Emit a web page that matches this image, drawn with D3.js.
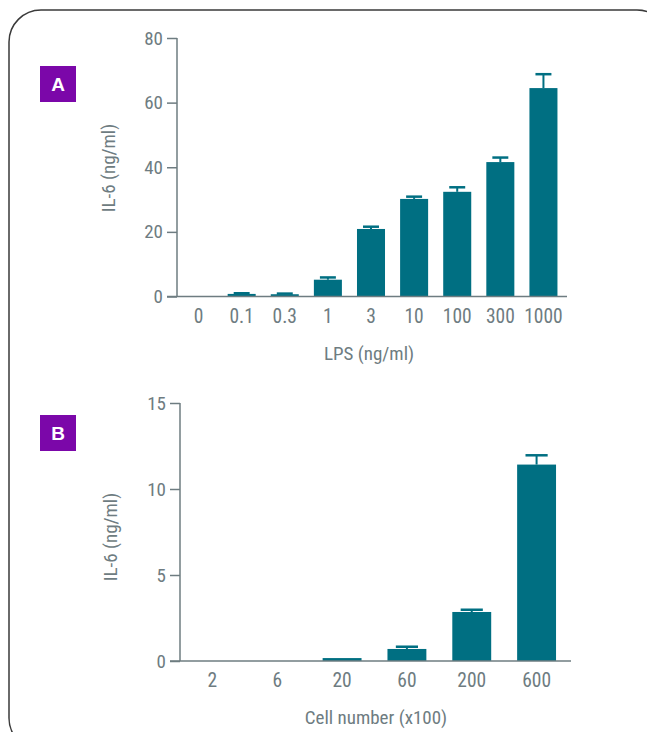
<!DOCTYPE html>
<meta charset="utf-8">
<style>
  body { margin: 0; background: #fff; }
  .axis path, .axis line { stroke: #6e7c81; stroke-width: 1.5px; }
  .axis text { fill: #6e7c81; font-size: 19px; }
  text { font-family: "Liberation Sans Narrow", "Roboto Condensed", "DejaVu Sans Condensed", sans-serif; }
</style>
<body>
<div id="chart"></div>
<script src="https://d3js.org/d3.v7.min.js"></script>
<script>

// panel A: LPS dose
var lpsDoses = ["0", "0.1", "0.3", "1", "3", "10", "100", "300", "1000"];
var lpsIL6 = [0, 0.8, 0.7, 5.2, 20.9, 30.2, 32.4, 41.6, 64.5];
var lpsErr = [0, 0.2, 0.2, 0.7, 0.7, 0.7, 1.4, 1.4, 4.3];
var lpsTicks = [0, 20, 40, 60, 80];

// panel B: cell number
var cellNumbers = ["2", "6", "20", "60", "200", "600"];
var cellIL6 = [0, 0, 0.17, 0.70, 2.85, 11.42];
var cellErr = [0, 0, 0, 0.13, 0.13, 0.54];
var cellTicks = [0, 5, 10, 15];

var W = 647, H = 732;
var barColor = "#006f82", textColor = "#6e7c81";

var svg = d3.select("#chart").append("svg")
    .attr("width", W)
    .attr("height", H);

// rounded frame, runs off the right and bottom edges
svg.append("rect")
    .attr("x", 9).attr("y", 10)
    .attr("width", 660).attr("height", 740)
    .attr("rx", 32).attr("ry", 32)
    .attr("fill", "none")
    .attr("stroke", "#3a3a3a")
    .attr("stroke-width", 1.5);

function drawPanel(p) {
  var x = d3.scaleBand()
      .domain(p.cats)
      .range([p.x0, p.x1])
      .paddingInner(p.pad)
      .paddingOuter(p.pad / 2);
  var y = d3.scaleLinear()
      .domain([0, d3.max(p.ticks)])
      .range([p.y0, p.y1]);

  var data = p.cats.map(function(c, i) { return {cat: c, v: p.vals[i], e: p.errs[i]}; });
  var g = svg.append("g");

  // error bars
  var capW = x.bandwidth() * 0.57;
  data.filter(function(d) { return d.e > 0; }).forEach(function(d) {
    var cx = x(d.cat) + x.bandwidth() / 2;
    g.append("line")
      .attr("x1", cx).attr("x2", cx)
      .attr("y1", y(d.v)).attr("y2", y(d.v + d.e))
      .attr("stroke", barColor).attr("stroke-width", 2);
    g.append("line")
      .attr("x1", cx - capW / 2).attr("x2", cx + capW / 2)
      .attr("y1", y(d.v + d.e)).attr("y2", y(d.v + d.e))
      .attr("stroke", barColor).attr("stroke-width", 2.5);
  });

  g.selectAll("rect.bar")
    .data(data)
    .enter().append("rect")
      .attr("class", "bar")
      .attr("x", function(d) { return x(d.cat); })
      .attr("width", x.bandwidth())
      .attr("y", function(d) { return y(d.v); })
      .attr("height", function(d) { return y(0) - y(d.v); })
      .attr("fill", barColor);

  // y axis
  var gy = svg.append("g")
      .attr("class", "axis")
      .attr("transform", "translate(" + p.x0 + ",0)")
      .call(d3.axisLeft(y).tickValues(p.ticks).tickSize(10).tickSizeOuter(0).tickPadding(4));
  gy.select(".domain").remove();
  gy.append("line")
    .attr("x1", 0).attr("x2", 0)
    .attr("y1", p.y0).attr("y2", p.y1)
    .attr("stroke", textColor).attr("stroke-width", 1.5);

  // x axis baseline (no ticks)
  svg.append("line")
    .attr("x1", p.x0 - 10).attr("x2", p.x1 + 2)
    .attr("y1", p.y0).attr("y2", p.y0)
    .attr("stroke", textColor).attr("stroke-width", 1.5);

  svg.append("g")
    .selectAll("text")
    .data(p.cats)
    .enter().append("text")
      .attr("x", function(d) { return x(d) + x.bandwidth() / 2; })
      .attr("y", p.y0 + 26)
      .attr("text-anchor", "middle")
      .attr("fill", textColor)
      .style("font-size", "19.5px")
      .text(function(d) { return d; });

  // axis titles
  svg.append("text")
    .attr("x", p.xTitleX).attr("y", p.xTitleY)
    .attr("text-anchor", "middle")
    .attr("fill", textColor)
    .style("font-size", "19px")
    .text(p.xTitle);
  svg.append("text")
    .attr("transform", "translate(" + p.yTitleX + "," + p.yTitleY + ") rotate(-90)")
    .attr("text-anchor", "middle")
    .attr("fill", textColor)
    .style("font-size", "19px")
    .text("IL-6 (ng/ml)");

  // panel letter
  svg.append("rect")
    .attr("x", 40).attr("y", p.boxY)
    .attr("width", 36).attr("height", 36)
    .attr("fill", "#7b07a9");
  svg.append("text")
    .attr("x", 58).attr("y", p.boxY + 25)
    .attr("text-anchor", "middle")
    .attr("fill", "#fff")
    .style("font-family", "'Liberation Sans', Arial, sans-serif")
    .style("font-weight", "bold")
    .style("font-size", "19px")
    .text(p.letter);
}

drawPanel({
  cats: lpsDoses, vals: lpsIL6, errs: lpsErr, ticks: lpsTicks,
  x0: 177, x1: 565, y0: 296.5, y1: 38, pad: 0.35,
  xTitle: "LPS (ng/ml)", xTitleX: 369, xTitleY: 360,
  yTitleX: 115, yTitleY: 168,
  letter: "A", boxY: 66
});

drawPanel({
  cats: cellNumbers, vals: cellIL6, errs: cellErr, ticks: cellTicks,
  x0: 180, x1: 569, y0: 661, y1: 403, pad: 0.4,
  xTitle: "Cell number (x100)", xTitleX: 376, xTitleY: 724,
  yTitleX: 117, yTitleY: 537,
  letter: "B", boxY: 415
});

</script>
</body>
